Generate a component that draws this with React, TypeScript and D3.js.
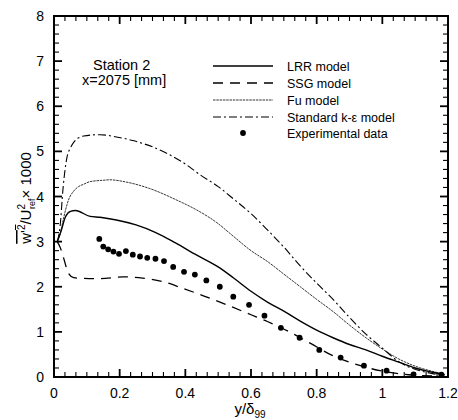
import React from "react";
import * as d3 from "d3";

const W = 458;
const H = 420;

// Data (x = y/δ99, y = w'^2/U_ref^2 × 1000)
const lrrX = [0.01, 0.02, 0.035, 0.05, 0.065, 0.11, 0.14, 0.19, 0.25, 0.31, 0.37, 0.435, 0.5, 0.546, 0.6, 0.65, 0.7, 0.75, 0.8, 0.85, 0.9, 0.95, 1.0, 1.05, 1.1, 1.15, 1.19];
const lrrY = [3.0, 3.2, 3.55, 3.67, 3.69, 3.56, 3.54, 3.48, 3.37, 3.2, 2.97, 2.7, 2.44, 2.2, 1.9, 1.66, 1.46, 1.24, 1.04, 0.87, 0.72, 0.6, 0.46, 0.33, 0.2, 0.11, 0.05];

const ssgX = [0.01, 0.02, 0.028, 0.044, 0.06, 0.074, 0.14, 0.21, 0.27, 0.333, 0.394, 0.455, 0.526, 0.6, 0.65, 0.73, 0.78, 0.85, 0.92, 1.0, 1.08, 1.18];
const ssgY = [3.0, 2.85, 2.67, 2.3, 2.2, 2.19, 2.18, 2.22, 2.19, 2.11, 1.96, 1.8, 1.6, 1.38, 1.23, 0.95, 0.75, 0.47, 0.28, 0.13, 0.05, 0.02];

const fuX = [0.01, 0.02, 0.028, 0.044, 0.06, 0.075, 0.09, 0.11, 0.15, 0.17, 0.22, 0.29, 0.374, 0.435, 0.496, 0.546, 0.6, 0.65, 0.7, 0.75, 0.8, 0.85, 0.9, 0.95, 1.0, 1.05, 1.1, 1.15, 1.19];
const fuY = [3.0, 3.2, 3.48, 3.92, 4.12, 4.22, 4.27, 4.33, 4.36, 4.37, 4.32, 4.18, 3.92, 3.7, 3.42, 3.12, 2.8, 2.56, 2.28, 2.0, 1.72, 1.45, 1.15, 0.87, 0.62, 0.4, 0.24, 0.13, 0.06];

const keX = [0.01, 0.018, 0.028, 0.039, 0.05, 0.06, 0.075, 0.09, 0.14, 0.19, 0.24, 0.3, 0.343, 0.4, 0.445, 0.5, 0.546, 0.6, 0.65, 0.7, 0.75, 0.8, 0.85, 0.9, 0.95, 1.0, 1.05, 1.1, 1.15, 1.18];
const keY = [3.0, 3.3, 4.22, 4.85, 5.08, 5.2, 5.3, 5.34, 5.37, 5.32, 5.24, 5.1, 4.96, 4.72, 4.48, 4.22, 3.95, 3.62, 3.26, 2.88, 2.46, 2.08, 1.72, 1.32, 0.95, 0.64, 0.34, 0.17, 0.08, 0.04];

const expX = [0.138, 0.15, 0.165, 0.181, 0.198, 0.219, 0.24, 0.262, 0.284, 0.309, 0.335, 0.363, 0.396, 0.429, 0.464, 0.505, 0.546, 0.594, 0.641, 0.691, 0.748, 0.808, 0.873, 0.944, 1.013, 1.095, 1.18];
const expY = [3.06, 2.89, 2.83, 2.78, 2.73, 2.79, 2.71, 2.67, 2.64, 2.62, 2.57, 2.44, 2.33, 2.27, 2.14, 2.0, 1.78, 1.6, 1.36, 1.09, 0.87, 0.6, 0.43, 0.25, 0.14, 0.06, 0.05];

const xTickValues = [0, 0.2, 0.4, 0.6, 0.8, 1.0, 1.2];
const xTickLabels = ["0", "0.2", "0.4", "0.6", "0.8", "1", "1.2"];
const yTickValues = [0, 1, 2, 3, 4, 5, 6, 7, 8];
const legendLabels = ["LRR model", "SSG model", "Fu model", "Standard k-\u03B5 model", "Experimental data"];

const FONT = "'Liberation Sans', Arial, Helvetica, sans-serif";

export default function App() {
  const left = 54, right = 448, top = 16, bottom = 377;
  const x = d3.scaleLinear().domain([0, 1.2]).range([left, right]);
  const y = d3.scaleLinear().domain([0, 8]).range([bottom, top]);

  const line = d3
    .line<[number, number]>()
    .x((d) => x(d[0]))
    .y((d) => y(d[1]))
    .curve(d3.curveMonotoneX);

  const zip = (a: number[], b: number[]) => a.map((v, i) => [v, b[i]] as [number, number]);

  const series = [
    { d: zip(lrrX, lrrY), dash: "none", w: 1.4, c: "#000" },
    { d: zip(ssgX, ssgY), dash: "10,7", w: 1.3, c: "#000" },
    { d: zip(fuX, fuY), dash: "2.5,0.8", w: 0.85, c: "#111" },
    { d: zip(keX, keY), dash: "8,3,2,3", w: 1.1, c: "#000" },
  ];

  // ticks
  const xMinor: number[] = [];
  for (let i = 0; i <= 36; i++) xMinor.push((i * 0.2) / 6);
  const yMinor: number[] = [];
  for (let i = 0; i <= 40; i++) yMinor.push(i * 0.2);
  const isMajorX = (v: number) => Math.abs(v / 0.2 - Math.round(v / 0.2)) < 1e-6;
  const isMajorY = (v: number) => Math.abs(v - Math.round(v)) < 1e-6;

  const MAJ = 8, MIN = 5;

  const legX0 = 213, legX1 = 273, legTextX = 287;
  const legRows = [66, 83, 100, 117, 133];

  return (
    <svg width={W} height={H} style={{ position: "absolute", left: 0, top: 0, background: "#fff" }} fontFamily={FONT}>
      <rect x={0} y={0} width={W} height={H} fill="#fff" />

      {/* ticks bottom & top */}
      {xMinor.map((v, i) => {
        const L = isMajorX(v) ? MAJ : MIN;
        const sw = isMajorX(v) ? 1.8 : 1.1;
        return (
          <g key={"xt" + i} stroke="#000" strokeWidth={sw}>
            <line x1={x(v)} x2={x(v)} y1={bottom} y2={bottom - L} />
            <line x1={x(v)} x2={x(v)} y1={top} y2={top + L} />
          </g>
        );
      })}
      {yMinor.map((v, i) => {
        const L = isMajorY(v) ? MAJ : MIN;
        const sw = isMajorY(v) ? 1.8 : 1.1;
        return (
          <g key={"yt" + i} stroke="#000" strokeWidth={sw}>
            <line x1={left} x2={left + L} y1={y(v)} y2={y(v)} />
            <line x1={right} x2={right - L} y1={y(v)} y2={y(v)} />
          </g>
        );
      })}

      {/* frame */}
      <rect x={left} y={top} width={right - left} height={bottom - top} fill="none" stroke="#000" strokeWidth={2} />

      {/* tick labels */}
      {xTickValues.map((v, i) => (
        <text key={"xl" + i} x={x(v)} y={398} fontSize={14} textAnchor="middle" fill="#000">
          {xTickLabels[i]}
        </text>
      ))}
      {yTickValues.map((v) => (
        <text key={"yl" + v} x={44} y={y(v) + 5} fontSize={14} textAnchor="end" fill="#000">
          {String(v)}
        </text>
      ))}

      {/* axis titles */}
      <text x={250} y={414} fontSize={15} textAnchor="middle" fill="#000">
        y/δ<tspan fontSize={10} dy={4}>99</tspan>
      </text>
      <text transform="translate(31,198) rotate(-90)" fontSize={15} textAnchor="middle" fill="#000">
        <tspan style={{ textDecoration: "overline" }}>w'</tspan>
        <tspan fontSize={10} dy={-6} style={{ textDecoration: "overline" }}>2</tspan>
        <tspan dy={6}>/U</tspan>
        <tspan fontSize={10} dy={-6}>2</tspan>
        <tspan fontSize={9} dx={-5} dy={10}>ref</tspan>
        <tspan dy={-4}>{"\u00D7 1000"}</tspan>
      </text>

      {/* station annotation */}
      <text x={93} y={70} fontSize={14.5} fill="#000">Station 2</text>
      <text x={82} y={85} fontSize={14.5} fill="#000">x=2075 [mm]</text>

      {/* curves */}
      {series.map((s, i) => (
        <path key={"s" + i} d={line(s.d) || ""} fill="none" stroke={s.c} strokeWidth={s.w} strokeDasharray={s.dash} />
      ))}
      {expX.map((v, i) => (
        <circle key={"p" + i} cx={x(v)} cy={y(expY[i])} r={2.9} fill="#000" />
      ))}

      {/* legend */}
      {series.map((s, i) => (
        <line key={"ll" + i} x1={legX0} x2={legX1} y1={legRows[i]} y2={legRows[i]} stroke={s.c} strokeWidth={s.w} strokeDasharray={s.dash} />
      ))}
      <circle cx={243} cy={legRows[4]} r={2.9} fill="#000" />
      {legendLabels.map((t, i) => (
        <text key={"lt" + i} x={legTextX} y={legRows[i] + 4.5} fontSize={12.5} fill="#000">
          {t}
        </text>
      ))}
    </svg>
  );
}
